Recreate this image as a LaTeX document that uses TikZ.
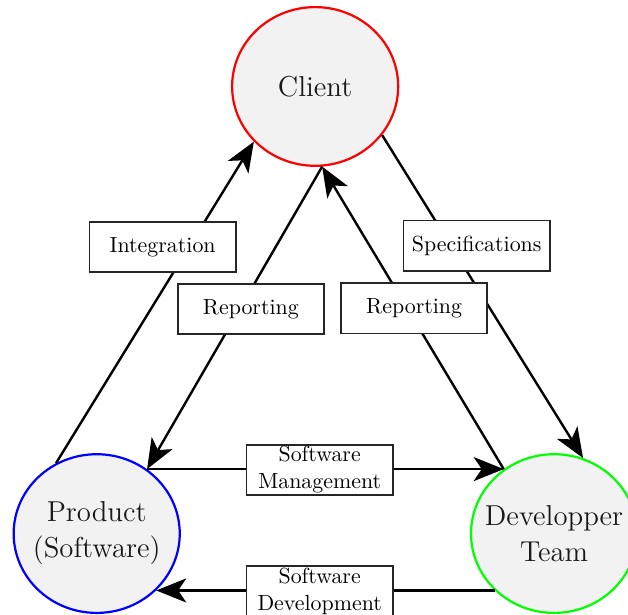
\documentclass[tikz,border=0pt]{standalone}
\usetikzlibrary{arrows.meta,shapes.geometric}

\begin{document}
\begin{tikzpicture}[
  party/.style={shape=ellipse,draw,line width=1.1pt,fill=black!5,text=black!90,
    minimum width=2.92cm,minimum height=2.79cm,inner xsep=-8pt,inner ysep=0pt,
    align=center,font=\Large},
  lbl/.style={shape=rectangle,draw=black!85,line width=0.8pt,fill=white,
    minimum width=2.57cm,minimum height=0.88cm,inner sep=0pt,align=center,
    font=\fontsize{10.95}{13.6}\selectfont},
  flow/.style={line width=1.2pt,-{Stealth[length=15pt,width=12pt,inset=4pt]}}
]
\useasboundingbox (0,0) rectangle (11.04,10.81);
\node[party,draw=red] (client) at (5.54,9.29) {Client};
\node[party,draw=blue] (prod) at (1.70,1.43) {Product\\(Software)};
\node[party,draw=green] (dev) at (9.74,1.43) {Developper\\Team};
\path [flow] (prod.120) edge (client.222);
\path [flow] (client.-85) edge (prod.52);
\path [flow] (dev.128) edge (client.-85);
\path [flow] (client.-36) edge (dev.69);
\path [flow] (prod.52) edge (dev.128);
\path [flow] (dev.south west) edge (prod.south east);
\node[lbl] (integ) at (2.86,6.47) {Integration};
\node[lbl] (repl) at (4.41,5.38) {Reporting};
\node[lbl] (repr) at (7.28,5.39) {Reporting};
\node[lbl] (spec) at (8.38,6.49) {Specifications};
\node[lbl] (mgmt) at (5.62,2.55) {Software\\Management};
\node[lbl] (devt) at (5.62,0.42) {Software\\Development};
\end{tikzpicture}
\end{document}
